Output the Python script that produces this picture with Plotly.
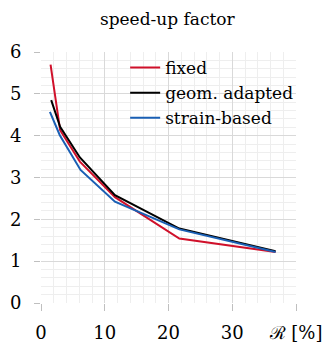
import plotly.graph_objects as go

fixed_x = [1.5, 3.0, 6.1, 11.6, 21.7, 36.8]
fixed_y = [5.70, 4.13, 3.38, 2.53, 1.54, 1.22]
geom_x = [1.6, 3.0, 6.1, 11.6, 21.7, 36.8]
geom_y = [4.85, 4.21, 3.48, 2.58, 1.78, 1.24]
strain_x = [1.4, 2.95, 6.2, 11.6, 21.7, 36.8]
strain_y = [4.57, 4.01, 3.18, 2.42, 1.76, 1.22]

x_ticks = [0, 10, 20, 30, 40]
x_ticktext = ["0", "10", "20", "30", "ℛ [%]"]
y_ticks = [0, 1, 2, 3, 4, 5, 6]

FONT = "DejaVu Serif"

fig = go.Figure()
fig.add_trace(go.Scatter(x=fixed_x, y=fixed_y, mode="lines", name="fixed",
                         line=dict(color="#d0102a", width=2)))
fig.add_trace(go.Scatter(x=geom_x, y=geom_y, mode="lines", name="geom. adapted",
                         line=dict(color="#000000", width=2)))
fig.add_trace(go.Scatter(x=strain_x, y=strain_y, mode="lines", name="strain-based",
                         line=dict(color="#1a5fb4", width=2)))

fig.update_layout(
    width=328, height=343,
    margin=dict(l=41, r=32, t=52, b=40, autoexpand=False),
    paper_bgcolor="white", plot_bgcolor="white",
    font=dict(family=FONT, size=18, color="black"),
    title=dict(text="speed-up factor", x=0.51, xanchor="center", y=0.945, yanchor="middle",
               font=dict(family=FONT, size=17, color="black")),
    legend=dict(x=0.33, y=1.008, xanchor="left", yanchor="top", bgcolor="rgba(0,0,0,0)",
                font=dict(family=FONT, size=17), itemwidth=30, tracegroupgap=0),
    showlegend=True,
)
fig.update_xaxes(range=[0, 40], tickvals=x_ticks, ticktext=x_ticktext,
                 tickfont=dict(family=FONT, size=18), ticklabelstandoff=6,
                 showgrid=True, gridcolor="#d9d9d9", gridwidth=1,
                 minor=dict(dtick=2, showgrid=True, gridcolor="#eeeeee", gridwidth=1),
                 ticks="outside", ticklen=7, tickcolor="#bfbfbf",
                 zeroline=False, showline=False, fixedrange=True, automargin=False)
fig.update_yaxes(range=[0, 6], tickvals=y_ticks,
                 tickfont=dict(family=FONT, size=18),
                 showgrid=True, gridcolor="#d9d9d9", gridwidth=1,
                 minor=dict(dtick=0.2, showgrid=True, gridcolor="#eeeeee", gridwidth=1),
                 ticks="outside", ticklen=6, tickcolor="#bfbfbf", ticklabelstandoff=9,
                 zeroline=False, showline=False, fixedrange=True, automargin=False)

fig.write_html("out.html")
